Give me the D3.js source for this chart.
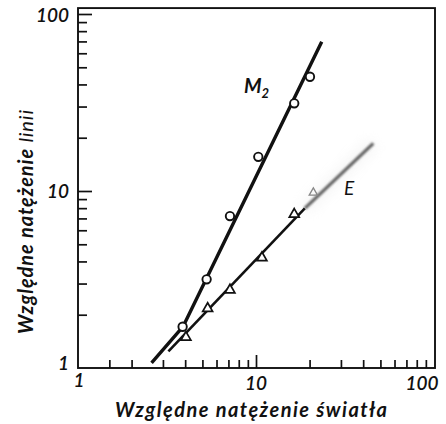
<!DOCTYPE html>
<html>
<head>
<meta charset="utf-8">
<script src="https://cdn.jsdelivr.net/npm/d3@7/dist/d3.min.js"></script>
<style>
  html, body { margin: 0; padding: 0; background: #fff; }
  svg { display: block; }
  text { font-family: Lato, "Open Sans", sans-serif; font-style: italic; fill: #111; }
</style>
</head>
<body>
<svg id="chart" width="446" height="424"></svg>
<script>
// Line intensity vs. light intensity, log-log
const m2X = [3.87, 5.28, 7.14, 10.3, 16.4, 20.1];
const m2Y = [1.71, 3.17, 7.22, 15.6, 31.3, 44.2];
const eX = [4.04, 5.35, 7.14, 10.8, 16.4];
const eY = [1.49, 2.17, 2.76, 4.20, 7.39];
const eFadedX = [21.0];
const eFadedY = [9.78];

// fitted lines
const m2LineX = [2.59, 3.9, 23.4];
const m2LineY = [1.07, 1.72, 69.8];
const eLineX = [3.22, 18.8];
const eLineY = [1.24, 7.98];
const eFadedLineX = [18.8, 45.6];
const eFadedLineY = [7.98, 18.6];

const majorTicks = [1, 10, 100];
const xMinorTicks = [1.5, 2, 3, 4, 5, 6, 7, 8, 9, 20, 30, 40, 50, 60, 70, 80, 90];
const yMinorTicks = [2, 3, 4, 5, 6, 7, 8, 9, 20, 30, 40, 50, 60, 70, 80, 90];
const tickLabels = ["1", "10", "100"];
const xTitle = "Względne natężenie światła";
const yTitleMain = "Względne natężenie ";
const yTitleTail = "linii";

const svg = d3.select("#chart");
const x = d3.scaleLog().domain([1, 100]).range([78, 434]);
const y = d3.scaleLog().domain([1, 100]).range([368, 14]);
const yTop = 108;

const defs = svg.append("defs");
defs.append("filter").attr("id", "soft").attr("x", "-20%").attr("y", "-20%")
  .attr("width", "140%").attr("height", "140%")
  .append("feGaussianBlur").attr("stdDeviation", 1.0);
defs.append("filter").attr("id", "softer").attr("x", "-50%").attr("y", "-50%")
  .attr("width", "200%").attr("height", "200%")
  .append("feGaussianBlur").attr("stdDeviation", 0.5);
defs.append("filter").attr("id", "haze").attr("x", "-50%").attr("y", "-50%")
  .attr("width", "200%").attr("height", "200%")
  .append("feGaussianBlur").attr("stdDeviation", 6);

// inward ticks
function tickAxis(axis, g) {
  g.call(axis);
  g.select(".domain").remove();
  g.selectAll(".tick line").attr("stroke", "#111").attr("stroke-width", 1.7);
}
tickAxis(d3.axisBottom(x).tickValues(xMinorTicks).tickSize(-8).tickFormat(""),
  svg.append("g").attr("transform", `translate(0,${y(1)})`));
tickAxis(d3.axisBottom(x).tickValues([10]).tickSize(-13).tickFormat(""),
  svg.append("g").attr("transform", `translate(0,${y(1)})`));
tickAxis(d3.axisLeft(y).tickValues(yMinorTicks).tickSize(-9).tickFormat(""),
  svg.append("g").attr("transform", `translate(${x(1)},0)`));
tickAxis(d3.axisLeft(y).tickValues([10, 100]).tickSize(-14).tickFormat(""),
  svg.append("g").attr("transform", `translate(${x(1)},0)`));

// frame
svg.append("rect")
  .attr("x", x(1)).attr("y", y(yTop))
  .attr("width", x(100) + 1 - x(1)).attr("height", y(1) - y(yTop))
  .attr("fill", "none").attr("stroke", "#111").attr("stroke-width", 1.9);

// tick labels
const yLabOffsets = [-5, 0, 1];
svg.append("g").selectAll("text").data(majorTicks).join("text")
  .attr("x", x(1) - 9)
  .attr("y", (d, i) => y(d) + 7 + yLabOffsets[i])
  .attr("text-anchor", "end")
  .attr("font-size", 19).attr("font-weight", 600)
  .text((d, i) => tickLabels[i]);
const xLabOffsets = [1, 0, -12];
svg.append("g").selectAll("text").data(majorTicks).join("text")
  .attr("x", (d, i) => x(d) + xLabOffsets[i])
  .attr("y", (d, i) => y(1) + (i === 0 ? 19 : 22))
  .attr("text-anchor", "middle")
  .attr("font-size", 19).attr("font-weight", 600)
  .text((d, i) => tickLabels[i]);

// axis titles
svg.append("text")
  .attr("x", 115).attr("y", 417)
  .attr("font-size", 20).attr("font-weight", 700)
  .attr("textLength", 272).attr("lengthAdjust", "spacing")
  .text(xTitle);
const yt = svg.append("text")
  .attr("transform", "translate(33,334) rotate(-90)")
  .attr("font-size", 20)
  .attr("textLength", 224).attr("lengthAdjust", "spacing");
yt.append("tspan").attr("font-weight", 700).text(yTitleMain);
yt.append("tspan").attr("font-weight", 400).text(yTitleTail);

const line = d3.line().x(d => x(d[0])).y(d => y(d[1]));
const zip = (a, b) => a.map((v, i) => [v, b[i]]);

// faded continuation of E
svg.append("path").datum(zip(eFadedLineX, eFadedLineY))
  .attr("d", line).attr("fill", "none")
  .attr("stroke", "#e4e4e4").attr("stroke-width", 14).attr("opacity", 0.3)
  .attr("filter", "url(#haze)");
svg.append("path").datum(zip(eFadedLineX, eFadedLineY))
  .attr("d", line).attr("fill", "none")
  .attr("stroke", "#5e5e5e").attr("stroke-width", 3.2)
  .attr("filter", "url(#soft)");

// fitted lines
svg.append("path").datum(zip(eLineX, eLineY))
  .attr("d", line).attr("fill", "none")
  .attr("stroke", "#111").attr("stroke-width", 2.6);
svg.append("path").datum(zip(m2LineX, m2LineY))
  .attr("d", line).attr("fill", "none")
  .attr("stroke", "#111").attr("stroke-width", 3.4)
  .attr("stroke-linejoin", "round");

// M2 points
svg.append("g").selectAll("circle").data(zip(m2X, m2Y)).join("circle")
  .attr("cx", d => x(d[0])).attr("cy", d => y(d[1])).attr("r", 4.2)
  .attr("fill", "#fff").attr("stroke", "#111").attr("stroke-width", 1.9);

// E points
const tri = d3.symbol(d3.symbolTriangle).size(42);
svg.append("g").selectAll("path").data(zip(eX, eY)).join("path")
  .attr("transform", d => `translate(${x(d[0])},${y(d[1])})`)
  .attr("d", tri).attr("fill", "#fff").attr("stroke", "#111").attr("stroke-width", 1.7);
svg.append("g").selectAll("path").data(zip(eFadedX, eFadedY)).join("path")
  .attr("transform", d => `translate(${x(d[0])},${y(d[1])})`)
  .attr("d", d3.symbol(d3.symbolTriangle).size(30))
  .attr("fill", "none").attr("stroke", "#888").attr("stroke-width", 1.3)
  .attr("filter", "url(#softer)");

// series labels
const m2lab = svg.append("text").attr("x", 244).attr("y", 93)
  .attr("font-size", 20).attr("font-weight", 700);
m2lab.append("tspan").text("M");
m2lab.append("tspan").attr("font-size", 13).attr("dy", 5).text("2");
svg.append("text").attr("x", 344).attr("y", 195)
  .attr("font-size", 19).attr("font-weight", 400).text("E");
</script>
</body>
</html>
